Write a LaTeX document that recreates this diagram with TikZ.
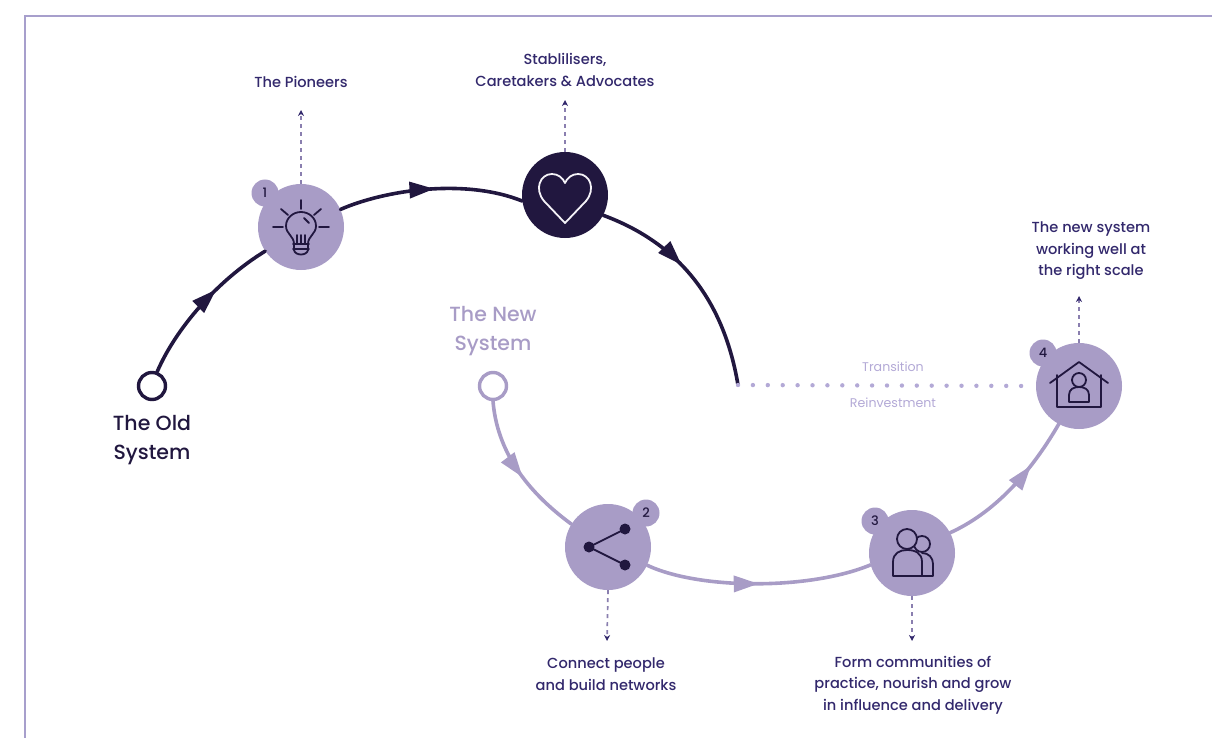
\documentclass[tikz,border=0pt]{standalone}
\usepackage{fontspec}
\setmainfont{Poppins}[BoldFont={Poppins Medium}]
\usetikzlibrary{arrows.meta,decorations.markings}
\definecolor{ink}{HTML}{21173F}
\definecolor{lav}{HTML}{A89CC6}
\definecolor{txt}{HTML}{32286C}
\definecolor{edgec}{HTML}{A79FCC}
\definecolor{soft}{HTML}{B3A9D6}
\tikzset{
  x=1pt,y=-1pt,
  hub/.style={circle,fill=lav,minimum size=86pt,inner sep=0pt},
  hubdark/.style={circle,fill=ink,minimum size=86pt,inner sep=0pt},
  badge/.style={circle,fill=lav,minimum size=27pt,inner sep=0pt,text=ink,font=\fontsize{13}{13}\selectfont\bfseries},
  ring/.style={circle,draw=#1,fill=white,line width=3.4pt,minimum size=27pt,inner sep=0pt},
  lbl/.style={align=center,text=txt,font=\fontsize{14.6}{21.5}\selectfont\bfseries},
  thin lbl/.style={align=center,text=soft,font=\fontsize{12.6}{14}\selectfont},
  big/.style={align=center,font=\fontsize{20.5}{29}\selectfont\bfseries},
  flow/.style={line width=#1,line cap=round},
  mid/.style={postaction={decorate},decoration={markings,mark=at position #1 with {\arrow{Triangle[length=25pt,width=16pt]}}}},
  midend/.style 2 args={postaction={decorate},decoration={markings,mark=at position #1 with {\arrow{Triangle[length=25pt,width=16pt]}},mark=at position #2 with {\arrow{Triangle[length=28pt,width=16pt]}}}},
  stem/.style={draw=lav!75!txt,line width=1.7pt,dash pattern=on 4pt off 4pt,-{Stealth[length=6pt,width=6pt,fill=txt,color=txt]}},
  icon/.style={draw=ink,line width=1.8pt,line cap=round,line join=round},
}
\begin{document}
\begin{tikzpicture}
\useasboundingbox (0,0) rectangle (1212,738);
\draw[edgec,line width=2.4pt] (25,738) -- (25,16) -- (1212,16);

% nodes
\node[ring=ink] (old) at (152,386) {};
\node[ring=lav] (new) at (493,386) {};
\node[hub] (n1) at (301,227) {};
\node[hubdark] (nh) at (565,195) {};
\node[hub] (n2) at (608,547) {};
\node[hub] (n3) at (912,553) {};
\node[hub] (n4) at (1079,386) {};
\node[badge] (b1) at (265,193) {1};
\node[badge] (b2) at (646,513) {2};
\node[badge] (b3) at (875,521) {3};
\node[badge] (b4) at (1043,353) {4};
\coordinate (turn) at (738,385);

% flows
\draw[ink,flow=3.6pt,mid={0.62}] (old.70) .. controls (176,328) and (218,280) .. (n1.214);
\draw[ink,flow=3.6pt,mid={0.52}] (n1.24) .. controls (385,190) and (465,178) .. (nh.188);
\draw[ink,flow=3.6pt,midend={0.41}{1}] (nh.-28) .. controls (670,240) and (722,290) .. (turn);
\draw[lav,flow=3.6pt,mid={0.55}] (new.-90) .. controls (497,450) and (525,490) .. (n2.148);
\draw[lav,flow=3.6pt,mid={0.5}] (n2.-25) .. controls (700,590) and (810,590) .. (n3.-164);
\draw[lav,flow=3.6pt,mid={0.68}] (n3.28) .. controls (1000,510) and (1035,465) .. (n4.-118);
\draw[soft,line width=4.4pt,line cap=round,dash pattern=on 0pt off 14.9pt] (turn) -- (n4.west);

% stems
\coordinate (t1) at (301,110);
\coordinate (t2) at (565,100);
\coordinate (t3) at (607,641);
\coordinate (t4) at (912,641);
\coordinate (t5) at (1079,296);
\draw[stem] (n1.north) -- (t1);
\draw[stem] (nh.north) -- (t2);
\draw[stem] (n2.south) -- (t3);
\draw[stem] (n3.south) -- (t4);
\draw[stem] (n4.north) -- (t5);

% labels
\node[lbl] at (301,82) {The Pioneers};
\node[lbl] at (565,70) {Stablilisers,\\Caretakers \& Advocates};
\node[lbl] at (1091,251) {The new system\\working well at\\the right scale};
\node[lbl] at (606,674) {Connect people\\and build networks};
\node[lbl] at (913,685) {Form communities of\\practice, nourish and grow\\in influence and delivery};
\node[big,text=ink] at (152,440) {The Old\\System};
\node[big,text=lav] at (493,331) {The New\\System};
\node[thin lbl] at (893,367) {Transition};
\node[thin lbl] at (893,403) {Reinvestment};

% bulb icon
\begin{scope}[shift={(n1.center)}]
\draw[icon] (-7,17) .. controls (-7,9) and (-15,7) .. (-15,-1) .. controls (-15,-9) and (-8,-15) .. (0,-15) .. controls (8,-15) and (15,-9) .. (15,-1) .. controls (15,7) and (7,9) .. (7,17);
\draw[icon] (-8,17) -- (8,17) (-8,22) -- (8,22) (-7,17) -- (-7,23) .. controls (-6,29) and (6,29) .. (7,23) -- (7,17);
\draw[icon] (-4,17) -- (-4,8) (0,17) -- (0,8) (4,17) -- (4,8);
\draw[icon] (3,-9) -- (8,-4);
\draw[icon] (0,-27) -- (0,-18) (-20,-18) -- (-13,-12) (20,-18) -- (13,-12) (-28,0) -- (-18,0) (18,0) -- (28,0);
\end{scope}

% heart icon
\begin{scope}[shift={(nh.center)}]
\draw[white!88!lav,line width=1.8pt,line join=round] (0,28) -- (-21,6) .. controls (-31,-6) and (-25,-21) .. (-13,-21) .. controls (-7,-21) and (-2,-17) .. (0,-12) .. controls (2,-17) and (7,-21) .. (13,-21) .. controls (25,-21) and (31,-6) .. (21,6) -- cycle;
\end{scope}

% share icon
\begin{scope}[shift={(n2.center)}]
\draw[icon] (-19,0) -- (17,-18) (-19,0) -- (17,18);
\fill[ink] (-19,0) circle (5.5pt) (17,-18) circle (5.5pt) (17,18) circle (5.5pt);
\end{scope}

% people icon
\begin{scope}[shift={(n3.center)}]
\draw[icon] (10,-9) circle (8pt);
\draw[icon] (10,0) .. controls (17,0) and (21,5) .. (21,11) -- (21,23) -- (10,23);
\draw[icon,fill=lav] (-5,-14) circle (10pt);
\draw[icon,fill=lav] (-19,23) -- (-19,9) .. controls (-19,0) and (-12,-3) .. (-5,-3) .. controls (3,-3) and (10,0) .. (10,9) -- (10,23) -- cycle;
\end{scope}

% house icon
\begin{scope}[shift={(n4.center)}]
\draw[icon] (-29,-3) -- (0,-24) -- (29,-3);
\draw[icon] (-22,-11) -- (-22,21) -- (22,21) -- (22,-11);
\draw[icon] (0,-6) circle (7pt);
\draw[icon] (-10,16) -- (-10,9) .. controls (-10,3) and (-5,1) .. (0,1) .. controls (5,1) and (10,3) .. (10,9) -- (10,16) -- cycle;
\end{scope}
\end{tikzpicture}
\end{document}
